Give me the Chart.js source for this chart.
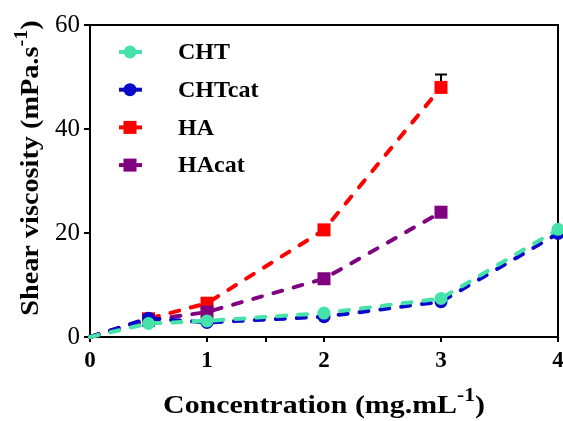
<!DOCTYPE html>
<html>
<head>
<meta charset="utf-8">
<script src="https://cdn.jsdelivr.net/npm/chart.js@4.4.1/dist/chart.umd.min.js"></script>
<style>
  html, body { margin: 0; padding: 0; background: #fff; }
  #wrap { width: 563px; height: 421px; }
</style>
</head>
<body>
<div id="wrap"><canvas id="viscChart" width="563" height="421"></canvas></div>
<script>
// concentrations (mg/mL) and shear viscosity (mPa.s)
const chtConc = [0, 0.5, 1, 2, 3, 4];
const haConc = [0, 0.5, 1, 2, 3];
const chtVisc = [0, 2.6, 3.1, 4.6, 7.4, 20.7];
const chtCatVisc = [0, 3.6, 2.8, 3.9, 6.8, 19.9];
const haVisc = [0, 3.5, 6.5, 20.6, 48.0];
const haCatVisc = [0, 3.2, 4.8, 11.2, 24.0];
const haErr = [0, 0, 0, 0, 2.5];

const xTickValues = [0, 1, 1.5, 2, 3, 4];
const xTickLabels = ['0', '1', '', '2', '3', '4'];
const yTickValues = [0, 20, 40, 60];

const SERIF = "'Liberation Serif', 'Times New Roman', serif";
const colors = { cht: '#44e3aa', chtCat: '#0a0ac8', ha: '#ff0000', haCat: '#800080' };

const legendItems = [
  { label: 'CHT', color: colors.cht, style: 'circle' },
  { label: 'CHTcat', color: colors.chtCat, style: 'circle' },
  { label: 'HA', color: colors.ha, style: 'rect' },
  { label: 'HAcat', color: colors.haCat, style: 'rect' }
];

function pts(xs, ys) {
  return xs.map((x, i) => ({ x: x, y: ys[i] }));
}

function series(label, xs, ys, color, style, order) {
  return {
    label: label,
    data: pts(xs, ys),
    order: order,
    borderColor: color,
    backgroundColor: color,
    borderWidth: 4,
    borderDash: [9, 12],
    borderCapStyle: 'round',
    pointStyle: style,
    pointRadius: ctx => ctx.dataIndex === 0 ? 0 : (style === 'rect' ? 9.2 : 6.5),
    pointBorderWidth: 0,
    tension: 0,
    clip: false
  };
}

// width of a title made of normal and superscript parts
function richWidth(ctx, parts, size) {
  let w = 0;
  parts.forEach(p => {
    ctx.font = 'bold ' + (p.sup ? size * 0.72 : size) + 'px ' + SERIF;
    p.w = ctx.measureText(p.t).width;
    w += p.w;
  });
  return w;
}

function drawRich(ctx, parts, size, x, y, stretch) {
  const total = richWidth(ctx, parts, size);
  ctx.save();
  ctx.translate(x, y);
  ctx.scale(stretch, 1);
  let cx = -total / 2;
  ctx.textAlign = 'left';
  ctx.textBaseline = 'alphabetic';
  parts.forEach(p => {
    ctx.font = 'bold ' + (p.sup ? size * 0.72 : size) + 'px ' + SERIF;
    ctx.fillText(p.t, cx, p.sup ? -size * 0.45 : 0);
    cx += p.w;
  });
  ctx.restore();
}

const xTitle = [{ t: 'Concentration (mg.mL' }, { t: '-1', sup: true }, { t: ')' }];
const yTitle = [{ t: 'Shear viscosity (mPa.s' }, { t: '-1', sup: true }, { t: ')' }];

const decorPlugin = {
  id: 'decor',
  beforeDatasetsDraw(chart) {
    const { ctx, chartArea: a, scales } = chart;
    ctx.save();
    // box frame, top and right sides
    ctx.strokeStyle = '#000';
    ctx.lineWidth = 2;
    ctx.beginPath();
    ctx.moveTo(a.left, a.top);
    ctx.lineTo(a.right, a.top);
    ctx.lineTo(a.right, a.bottom);
    ctx.stroke();
    // upward error bars on HA
    haConc.forEach((c, i) => {
      if (!haErr[i]) return;
      const px = scales.x.getPixelForValue(c);
      const y0 = scales.y.getPixelForValue(haVisc[i]);
      const y1 = scales.y.getPixelForValue(haVisc[i] + haErr[i]);
      ctx.beginPath();
      ctx.moveTo(px, y0);
      ctx.lineTo(px, y1);
      ctx.moveTo(px - 6, y1);
      ctx.lineTo(px + 6, y1);
      ctx.stroke();
    });
    ctx.restore();
  },
  afterDraw(chart) {
    const { ctx, chartArea: a } = chart;
    ctx.save();
    ctx.fillStyle = '#000';
    drawRich(ctx, xTitle, 26, (a.left + a.right) / 2, 413, 1.15);
    ctx.save();
    ctx.translate(38, 168);
    ctx.rotate(-Math.PI / 2);
    drawRich(ctx, yTitle, 25, 0, 0, 1.13);
    ctx.restore();

    // legend: dashed stub with marker, then label
    legendItems.forEach((it, i) => {
      const y = 52 + i * 37.7;
      const cx = 130;
      ctx.strokeStyle = it.color;
      ctx.fillStyle = it.color;
      ctx.lineWidth = 4;
      ctx.beginPath();
      ctx.moveTo(119, y);
      ctx.lineTo(142, y);
      ctx.stroke();
      if (it.style === 'circle') {
        ctx.beginPath();
        ctx.arc(cx, y, 6.5, 0, Math.PI * 2);
        ctx.fill();
      } else {
        ctx.fillRect(cx - 6.5, y - 6.5, 13, 13);
      }
      ctx.fillStyle = '#000';
      ctx.font = 'bold 24px ' + SERIF;
      ctx.textAlign = 'left';
      ctx.textBaseline = 'middle';
      ctx.fillText(it.label, 178, y + 1);
    });
    ctx.restore();
  }
};

const axisLine = { display: true, color: '#000', width: 2 };
const tickGrid = { display: true, drawOnChartArea: false, drawTicks: true, color: '#000', lineWidth: 2 };

new Chart(document.getElementById('viscChart'), {
  type: 'line',
  data: {
    datasets: [
      series('CHT', chtConc, chtVisc, colors.cht, 'circle', 0),
      series('CHTcat', chtConc, chtCatVisc, colors.chtCat, 'circle', 1),
      series('HA', haConc, haVisc, colors.ha, 'rect', 3),
      series('HAcat', haConc, haCatVisc, colors.haCat, 'rect', 2)
    ]
  },
  options: {
    responsive: false,
    animation: false,
    layout: { padding: { left: 0, right: 5, top: 25, bottom: 0 }, autoPadding: false },
    plugins: { legend: { display: false }, tooltip: { enabled: false } },
    scales: {
      x: {
        type: 'linear',
        min: 0,
        max: 4,
        afterBuildTicks: s => { s.ticks = xTickValues.map(v => ({ value: v })); },
        afterFit: s => { s.height = 84; s.paddingLeft = 0; s.paddingRight = 0; },
        ticks: {
          callback: (v, i) => xTickLabels[i],
          autoSkip: false,
          maxRotation: 0,
          padding: 5,
          color: '#000',
          font: { family: SERIF, size: 23, weight: 'bold' }
        },
        grid: Object.assign({ tickLength: 5 }, tickGrid),
        border: axisLine
      },
      y: {
        min: 0,
        max: 60,
        afterBuildTicks: s => { s.ticks = yTickValues.map(v => ({ value: v })); },
        afterFit: s => { s.width = 90; s.paddingTop = 0; s.paddingBottom = 0; },
        ticks: {
          padding: 4,
          color: '#000',
          font: { family: SERIF, size: 25 }
        },
        grid: Object.assign({ tickLength: 6 }, tickGrid),
        border: axisLine
      }
    }
  },
  plugins: [decorPlugin]
});
</script>
</body>
</html>
